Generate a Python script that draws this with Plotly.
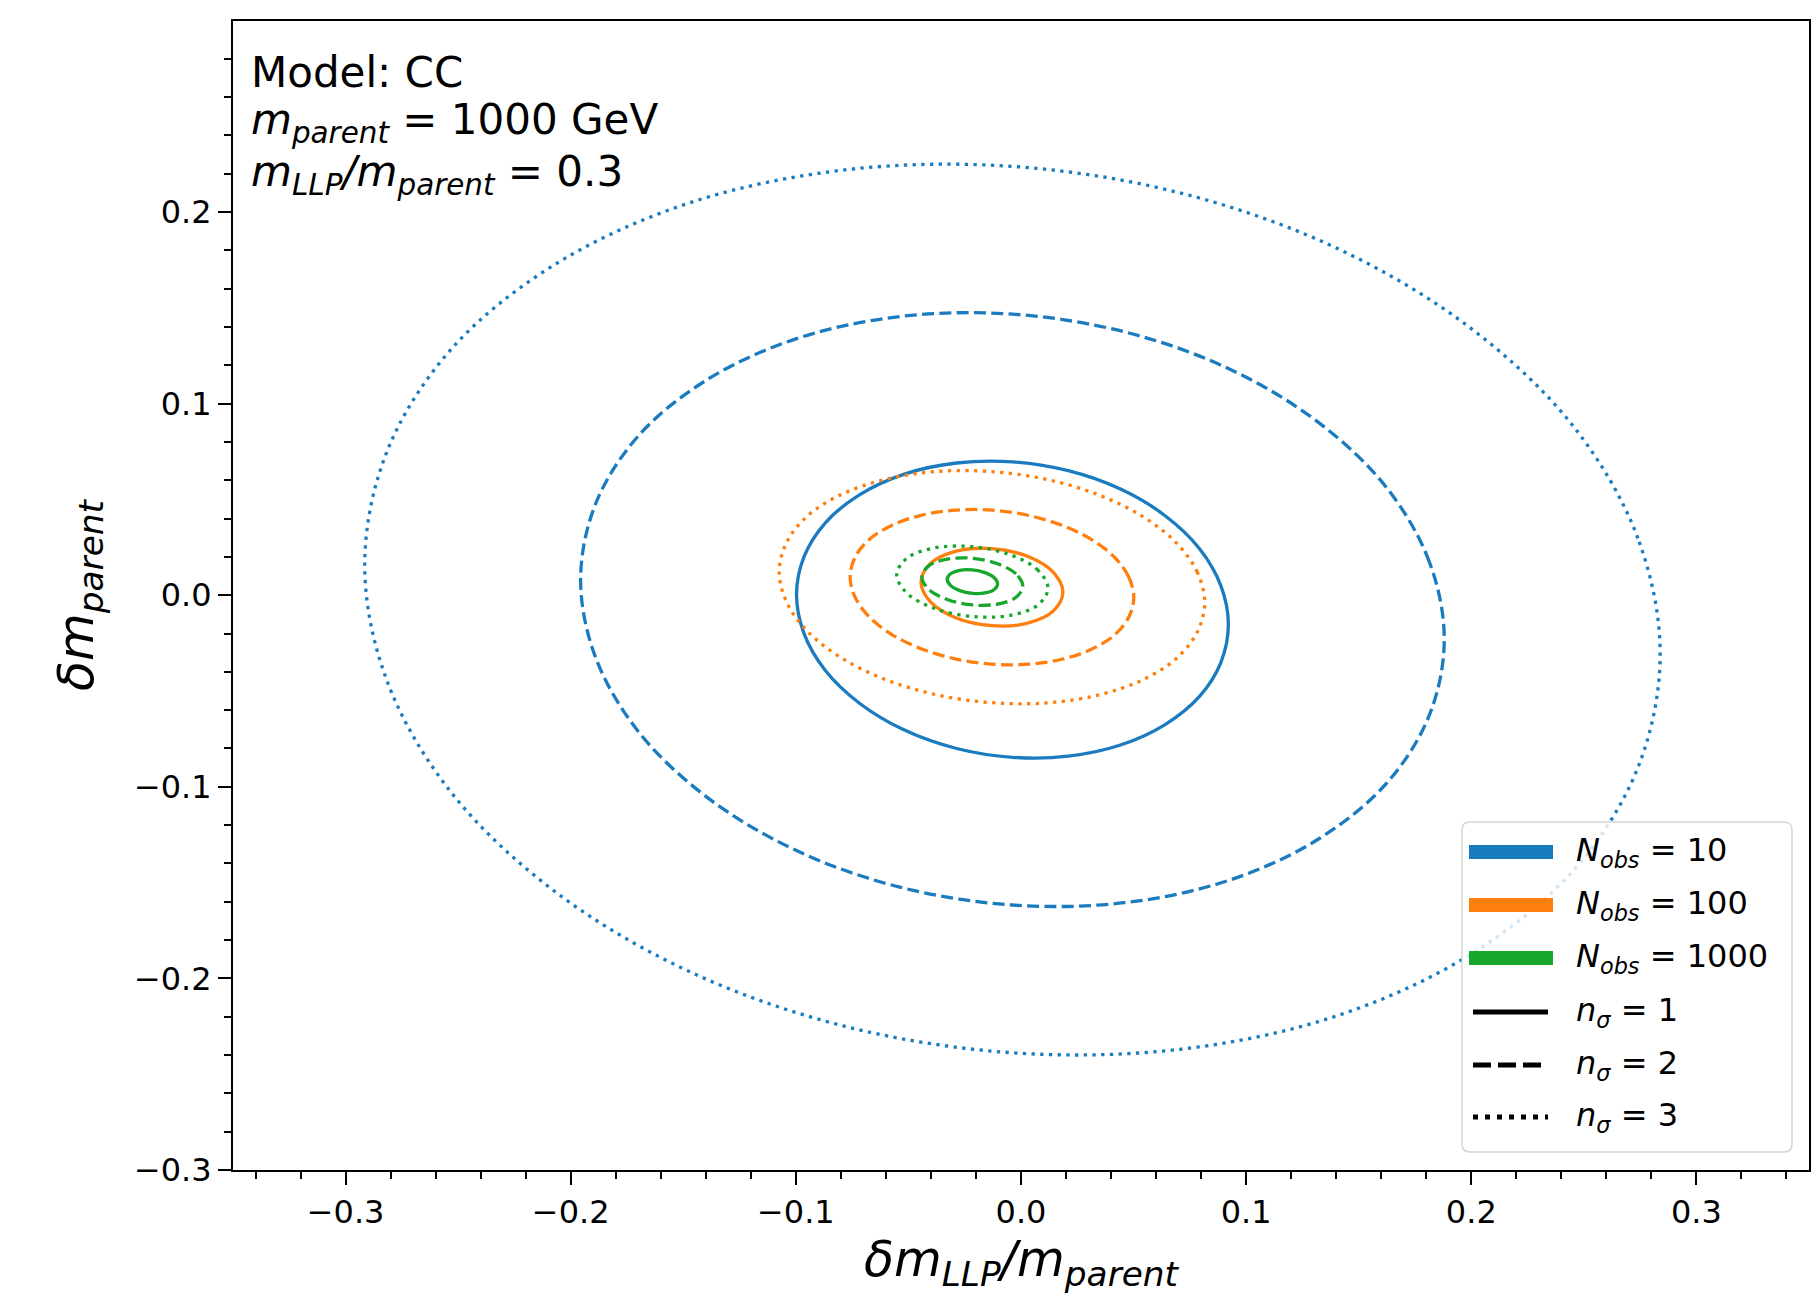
import plotly.graph_objects as go

# ---- contour points (x = dm_LLP/m_parent, y = dm_parent) ----
# N_obs = 10
n10_s1_x = [0.0921, 0.0888, 0.0793, 0.0640, 0.0442, 0.0210, -0.0038, -0.0286, -0.0518, -0.0716, -0.0869, -0.0964,
            -0.0997, -0.0964, -0.0869, -0.0716, -0.0518, -0.0286, -0.0038, 0.0210, 0.0442, 0.0640, 0.0793, 0.0888]
n10_s1_y = [-0.0153, 0.0049, 0.0243, 0.0415, 0.0554, 0.0650, 0.0696, 0.0690, 0.0632, 0.0525, 0.0378, 0.0200,
            0.0003, -0.0199, -0.0393, -0.0565, -0.0704, -0.0800, -0.0846, -0.0840, -0.0782, -0.0675, -0.0528, -0.0350]
n10_s2_x = [0.1880, 0.1814, 0.1624, 0.1318, 0.0921, 0.0458, -0.0038, -0.0534, -0.0997, -0.1394, -0.1700, -0.1890,
            -0.1956, -0.1890, -0.1700, -0.1394, -0.0997, -0.0534, -0.0038, 0.0458, 0.0921, 0.1318, 0.1624, 0.1814]
n10_s2_y = [-0.0231, 0.0173, 0.0561, 0.0905, 0.1183, 0.1375, 0.1467, 0.1455, 0.1339, 0.1125, 0.0831, 0.0475,
            0.0081, -0.0323, -0.0711, -0.1055, -0.1333, -0.1525, -0.1617, -0.1605, -0.1489, -0.1275, -0.0981, -0.0625]
n10_s3_x = [0.2839, 0.2740, 0.2455, 0.1996, 0.1401, 0.0706, -0.0038, -0.0782, -0.1477, -0.2072, -0.2531, -0.2816,
            -0.2915, -0.2816, -0.2531, -0.2072, -0.1477, -0.0782, -0.0038, 0.0706, 0.1401, 0.1996, 0.2455, 0.2740]
n10_s3_y = [-0.0309, 0.0297, 0.0879, 0.1395, 0.1812, 0.2100, 0.2238, 0.2220, 0.2046, 0.1725, 0.1284, 0.0750,
            0.0159, -0.0447, -0.1029, -0.1545, -0.1962, -0.2250, -0.2388, -0.2370, -0.2196, -0.1875, -0.1434, -0.0900]
# N_obs = 100
n100_s1_x = [0.0186, 0.0144, 0.0029, -0.0129, -0.0287, -0.0402, -0.0444, -0.0402, -0.0287, -0.0129, 0.0029, 0.0144]
n100_s1_y = [0.0015, 0.0119, 0.0203, 0.0243, 0.0230, 0.0166, 0.0069, -0.0035, -0.0119, -0.0159, -0.0146, -0.0082]
n100_s2_x = [0.0501, 0.0479, 0.0417, 0.0317, 0.0186, 0.0034, -0.0129, -0.0292, -0.0444, -0.0575, -0.0675, -0.0737,
             -0.0759, -0.0737, -0.0675, -0.0575, -0.0444, -0.0292, -0.0129, 0.0034, 0.0186, 0.0317, 0.0417, 0.0479]
n100_s2_y = [-0.0012, 0.0094, 0.0196, 0.0288, 0.0363, 0.0416, 0.0444, 0.0444, 0.0417, 0.0364, 0.0290, 0.0198,
             0.0096, -0.0010, -0.0112, -0.0204, -0.0279, -0.0332, -0.0360, -0.0360, -0.0333, -0.0280, -0.0206, -0.0114]
n100_s3_x = [0.0816, 0.0783, 0.0690, 0.0540, 0.0344, 0.0116, -0.0129, -0.0374, -0.0602, -0.0798, -0.0948, -0.1041,
             -0.1074, -0.1041, -0.0948, -0.0798, -0.0602, -0.0374, -0.0129, 0.0116, 0.0344, 0.0540, 0.0690, 0.0783]
n100_s3_y = [-0.0039, 0.0120, 0.0273, 0.0411, 0.0524, 0.0604, 0.0645, 0.0646, 0.0605, 0.0526, 0.0414, 0.0276,
             0.0123, -0.0036, -0.0189, -0.0327, -0.0440, -0.0520, -0.0561, -0.0562, -0.0521, -0.0442, -0.0330, -0.0192]
# N_obs = 1000
n1000_s1_x = [-0.0104, -0.0119, -0.0160, -0.0216, -0.0272, -0.0313, -0.0328, -0.0313, -0.0272, -0.0216, -0.0160, -0.0119]
n1000_s1_y = [0.0059, 0.0091, 0.0118, 0.0132, 0.0130, 0.0112, 0.0083, 0.0051, 0.0024, 0.0010, 0.0012, 0.0030]
n1000_s2_x = [0.0008, -0.0022, -0.0104, -0.0216, -0.0328, -0.0410, -0.0440, -0.0410, -0.0328, -0.0216, -0.0104, -0.0022]
n1000_s2_y = [0.0047, 0.0111, 0.0164, 0.0193, 0.0188, 0.0153, 0.0095, 0.0031, -0.0022, -0.0051, -0.0046, -0.0011]
n1000_s3_x = [0.0120, 0.0075, -0.0048, -0.0216, -0.0384, -0.0507, -0.0552, -0.0507, -0.0384, -0.0216, -0.0048, 0.0075]
n1000_s3_y = [0.0035, 0.0131, 0.0211, 0.0253, 0.0247, 0.0193, 0.0107, 0.0011, -0.0069, -0.0111, -0.0105, -0.0051]

x_ticks = [-0.3, -0.2, -0.1, 0.0, 0.1, 0.2, 0.3]
x_ticktext = ["\u22120.3", "\u22120.2", "\u22120.1", "0.0", "0.1", "0.2", "0.3"]
y_ticks = [-0.3, -0.2, -0.1, 0.0, 0.1, 0.2]
y_ticktext = ["\u22120.3", "\u22120.2", "\u22120.1", "0.0", "0.1", "0.2"]

n_obs_labels = ["10", "100", "1000"]
n_sigma_labels = ["1", "2", "3"]

# ---- styles ----
BLUE = "#1a7bbf"
ORANGE = "#ff7f0e"
GREEN = "#16a72c"
FONT = "DejaVu Sans"
LW = 3.3
DASHES = ["solid", "12px,5.3px", "3.3px,5.4px"]

contours = [
    (n10_s1_x, n10_s1_y, BLUE, 0), (n10_s2_x, n10_s2_y, BLUE, 1), (n10_s3_x, n10_s3_y, BLUE, 2),
    (n100_s1_x, n100_s1_y, ORANGE, 0), (n100_s2_x, n100_s2_y, ORANGE, 1), (n100_s3_x, n100_s3_y, ORANGE, 2),
    (n1000_s1_x, n1000_s1_y, GREEN, 0), (n1000_s2_x, n1000_s2_y, GREEN, 1), (n1000_s3_x, n1000_s3_y, GREEN, 2),
]

fig = go.Figure()
for xs, ys, col, k in contours:
    fig.add_trace(go.Scatter(
        x=xs + [xs[0]], y=ys + [ys[0]], mode="lines",
        line=dict(color=col, width=LW, dash=DASHES[k], shape="spline", smoothing=1.0),
        showlegend=False, hoverinfo="skip",
    ))

# ---- plot area geometry (pixels) for the hand-made legend ----
W, H = 1814, 1294
ML, MR, MT, MB = 233, 5, 21, 124
PW, PH = W - ML - MR, H - MT - MB

def px(xp):
    return (xp - ML) / PW

def py(yp):
    return (H - MB - yp) / PH

shapes = []
# legend frame (rounded)
x0, x1, y0, y1 = px(1462), px(1792), py(1152), py(822)
rx, ry = 8 / PW, 8 / PH
path = (f"M {x0+rx},{y0} L {x1-rx},{y0} Q {x1},{y0} {x1},{y0+ry} L {x1},{y1-ry} "
        f"Q {x1},{y1} {x1-rx},{y1} L {x0+rx},{y1} Q {x0},{y1} {x0},{y1-ry} "
        f"L {x0},{y0+ry} Q {x0},{y0} {x0+rx},{y0} Z")
shapes.append(dict(type="path", path=path, xref="paper", yref="paper",
                   fillcolor="rgba(255,255,255,0.8)", line=dict(color="#d4d4d4", width=1.5), layer="above"))

rows = [852, 905, 958, 1012, 1065, 1117]
annotations = []
for i, (lab, col) in enumerate(zip(n_obs_labels, [BLUE, ORANGE, GREEN])):
    shapes.append(dict(type="line", xref="paper", yref="paper", x0=px(1469), x1=px(1553),
                       y0=py(rows[i]), y1=py(rows[i]), line=dict(color=col, width=14), layer="above"))
    annotations.append(dict(xref="paper", yref="paper", x=px(1574), y=py(rows[i]),
                            text=f"<i>N</i><sub><i>obs</i></sub> = {lab}", showarrow=False,
                            xanchor="left", yanchor="middle", font=dict(family=FONT, size=32, color="black")))
leg_dash = ["solid", "18px,7px", "5px,7px"]
for j, lab in enumerate(n_sigma_labels):
    r = rows[3 + j]
    shapes.append(dict(type="line", xref="paper", yref="paper", x0=px(1473), x1=px(1548),
                       y0=py(r), y1=py(r), line=dict(color="black", width=5, dash=leg_dash[j]), layer="above"))
    annotations.append(dict(xref="paper", yref="paper", x=px(1574), y=py(r),
                            text=f"<i>n</i><sub><i>\u03c3</i></sub> = {lab}", showarrow=False,
                            xanchor="left", yanchor="middle", font=dict(family=FONT, size=32, color="black")))

# info text, top left
info = ["Model: CC",
        "<i>m</i><sub><i>parent</i></sub> = 1000 GeV",
        "<i>m</i><sub><i>LLP</i></sub><i>/m</i><sub><i>parent</i></sub> = 0.3"]
info_y = [73, 122, 175]
for t, yy in zip(info, info_y):
    annotations.append(dict(xref="paper", yref="paper", x=px(249), y=py(yy), text=t, showarrow=False,
                            xanchor="left", yanchor="middle", font=dict(family=FONT, size=42, color="black")))

axis_common = dict(
    showline=True, linecolor="black", linewidth=2, mirror=True,
    ticks="outside", ticklen=13, tickwidth=2, tickcolor="black",
    showgrid=False, zeroline=False,
    tickfont=dict(family=FONT, size=32, color="black"),
)

fig.update_layout(
    width=W, height=H,
    margin=dict(l=ML, r=MR, t=MT, b=MB, autoexpand=False),
    paper_bgcolor="white", plot_bgcolor="white",
    showlegend=False,
    shapes=shapes, annotations=annotations,
    xaxis=dict(range=[-0.35, 0.35], tickmode="array", tickvals=x_ticks, ticktext=x_ticktext,
               minor=dict(dtick=0.02, tick0=0, ticks="outside", ticklen=7, tickwidth=1.5, tickcolor="black"),
               title=dict(text="<i>\u03b4m</i><sub><i>LLP</i></sub><i>/m</i><sub><i>parent</i></sub>",
                          font=dict(family=FONT, size=49, color="black"), standoff=24),
               **axis_common),
    yaxis=dict(range=[-0.3, 0.2997], tickmode="array", tickvals=y_ticks, ticktext=y_ticktext,
               minor=dict(dtick=0.02, tick0=0, ticks="outside", ticklen=7, tickwidth=1.5, tickcolor="black"),
               title=dict(text="<i>\u03b4m</i><sub><i>parent</i></sub>",
                          font=dict(family=FONT, size=49, color="black"), standoff=25),
               **axis_common),
    font=dict(family=FONT),
)

fig.write_html("out.html")
